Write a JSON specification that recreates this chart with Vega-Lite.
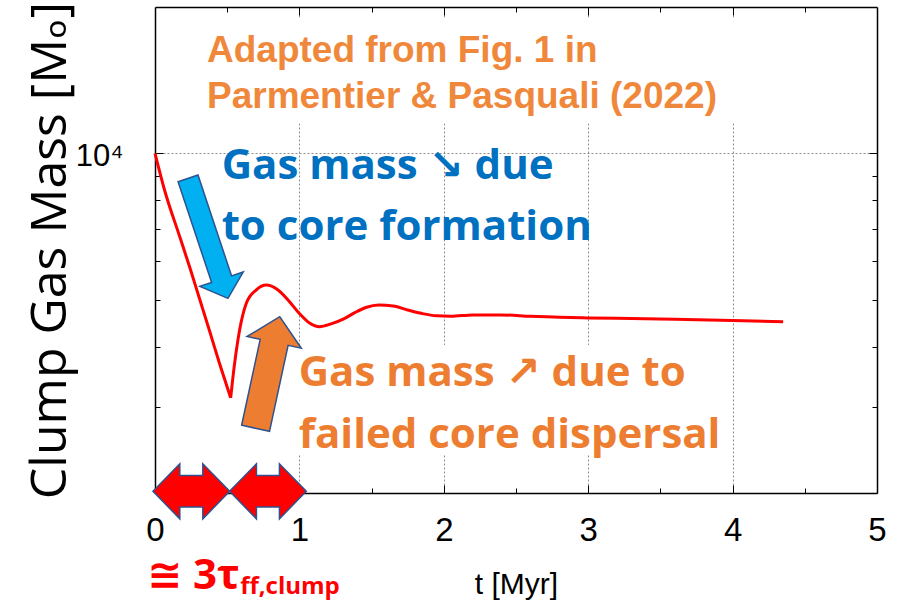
{
  "$schema": "https://vega.github.io/schema/vega-lite/v6.json",
  "width": 722,
  "height": 486,
  "autosize": {"type": "none"},
  "padding": {"left": 155, "top": 7, "right": 27, "bottom": 111},
  "background": "white",
  "config": {"view": {"stroke": null}},
  "layer": [
    {
      "data": {"values": [
        {"t1": 0.3, "t2": 4.05, "m1": 11526, "m2": 19000},
        {"t1": 0.97, "t2": 4.0, "m1": 2399, "m2": 4034}
      ]},
      "mark": {"type": "rect", "fill": "white", "strokeWidth": 0},
      "encoding": {
        "x": {"field": "t1", "type": "quantitative",
          "scale": {"domain": [0, 5], "nice": false, "zero": false},
          "axis": {"orient": "top", "values": [0.5, 1, 1.5, 2, 2.5, 3, 3.5, 4, 4.5],
            "labels": false, "grid": false, "title": null,
            "domain": true, "domainColor": "black", "domainWidth": 1.5,
            "tickColor": "black", "tickWidth": 1,
            "tickSize": {"condition": {"test": "datum.value % 1 === 0", "value": -8}, "value": -5}}},
        "x2": {"field": "t2"},
        "y": {"field": "m1", "type": "quantitative",
          "scale": {"type": "log", "domain": [2000, 20000], "nice": false},
          "axis": {"orient": "right", "values": [3000, 4000, 5000, 6000, 7000, 8000, 9000, 10000],
            "labels": false, "grid": false, "title": null,
            "domain": true, "domainColor": "black", "domainWidth": 1.5,
            "tickColor": "black", "tickWidth": 1,
            "tickSize": {"condition": {"test": "datum.value === 10000", "value": -8}, "value": -5}}},
        "y2": {"field": "m2"}
      }
    },
    {
      "data": {"values": [
        {"t": 0, "M": 10000}, {"t": 0.0665, "M": 8395}, {"t": 0.17, "M": 6754},
        {"t": 0.24, "M": 5834}, {"t": 0.309, "M": 5014}, {"t": 0.378, "M": 4309},
        {"t": 0.448, "M": 3686}, {"t": 0.524, "M": 3140}
      ]},
      "mark": {"type": "line", "color": "#FF0000", "strokeWidth": 3, "interpolate": "monotone"},
      "encoding": {
        "x": {"field": "t", "type": "quantitative",
          "scale": {"domain": [0, 5], "nice": false, "zero": false},
          "axis": {"orient": "bottom", "values": [0, 0.5, 1, 1.5, 2, 2.5, 3, 3.5, 4, 4.5, 5],
            "labelExpr": "datum.value % 1 === 0 ? format(datum.value, 'd') : ''",
            "labelFlush": false, "labelOverlap": false,
            "labelFont": "Liberation Sans", "labelFontSize": 33, "labelColor": "black", "labelPadding": 29,
            "grid": true, "gridColor": "#8c8c8c", "gridDash": [2, 2], "gridWidth": 1,
            "gridOpacity": {"condition": {"test": "datum.value % 1 === 0 && datum.value > 0 && datum.value < 5", "value": 1}, "value": 0},
            "domain": true, "domainColor": "black", "domainWidth": 1.5,
            "tickColor": "black", "tickWidth": 1,
            "tickSize": {"condition": {"test": "datum.value % 1 === 0", "value": -8}, "value": -5},
            "title": "t [Myr]", "titleFont": "Liberation Sans", "titleFontSize": 30,
            "titleFontWeight": "normal", "titleColor": "black", "titlePadding": 19}},
        "y": {"field": "M", "type": "quantitative",
          "scale": {"type": "log", "domain": [2000, 20000], "nice": false},
          "axis": {"orient": "left", "values": [3000, 4000, 5000, 6000, 7000, 8000, 9000, 10000],
            "labelExpr": "datum.value === 10000 ? '10⁴' : ''",
            "labelOverlap": false, "labelFont": "Liberation Sans, DejaVu Sans", "labelFontSize": 31,
            "labelColor": "black", "labelPadding": 40, "labelOffset": 3,
            "grid": true, "gridColor": "#8c8c8c", "gridDash": [2, 2], "gridWidth": 1,
            "gridOpacity": {"condition": {"test": "datum.value === 10000", "value": 1}, "value": 0},
            "domain": true, "domainColor": "black", "domainWidth": 1.5,
            "tickColor": "black", "tickWidth": 1,
            "tickSize": {"condition": {"test": "datum.value === 10000", "value": -8}, "value": -5},
            "title": "Clump Gas Mass [Mₒ]", "titleFont": "Open Sans, DejaVu Sans", "titleFontSize": 50,
            "titleFontWeight": "normal", "titleColor": "black", "titlePadding": 0}}
      }
    },
    {
      "data": {"values": [
        {"t": 0.524, "M": 3140}, {"t": 0.55, "M": 3670}, {"t": 0.586, "M": 4330},
        {"t": 0.633, "M": 4920}, {"t": 0.7, "M": 5230}, {"t": 0.77, "M": 5357},
        {"t": 0.85, "M": 5241}, {"t": 0.93, "M": 4958}, {"t": 1.0, "M": 4680},
        {"t": 1.07, "M": 4474}, {"t": 1.14, "M": 4397}, {"t": 1.22, "M": 4458},
        {"t": 1.3, "M": 4551}, {"t": 1.38, "M": 4694}, {"t": 1.46, "M": 4817},
        {"t": 1.55, "M": 4875}, {"t": 1.65, "M": 4850}, {"t": 1.75, "M": 4760},
        {"t": 1.85, "M": 4680}, {"t": 1.95, "M": 4630}, {"t": 2.05, "M": 4620},
        {"t": 2.2, "M": 4650}, {"t": 2.4, "M": 4650}, {"t": 2.6, "M": 4620},
        {"t": 2.8, "M": 4600}, {"t": 3.0, "M": 4585}, {"t": 3.3, "M": 4570},
        {"t": 3.6, "M": 4555}, {"t": 4.0, "M": 4530}, {"t": 4.35, "M": 4500}
      ]},
      "mark": {"type": "line", "color": "#FF0000", "strokeWidth": 3, "interpolate": "monotone"},
      "encoding": {
        "x": {"field": "t", "type": "quantitative", "scale": {"domain": [0, 5], "nice": false, "zero": false}, "axis": null},
        "y": {"field": "M", "type": "quantitative", "scale": {"type": "log", "domain": [2000, 20000], "nice": false}, "axis": null}
      }
    },
    {
      "data": {"values": [{"t": 0.367, "M": 6683}]},
      "mark": {"type": "point", "shape": "M 0 -1 L 0.362 -0.68 L 0.166 -0.68 L 0.166 1 L -0.166 1 L -0.166 -0.68 L -0.362 -0.68 Z",
        "filled": true, "fill": "#00B0F0", "stroke": "#2F528F", "strokeWidth": 1.5, "opacity": 1,
        "size": 16000, "angle": 161.6},
      "encoding": {
        "x": {"field": "t", "type": "quantitative", "scale": {"domain": [0, 5], "nice": false, "zero": false}, "axis": null},
        "y": {"field": "M", "type": "quantitative", "scale": {"type": "log", "domain": [2000, 20000], "nice": false}, "axis": null}
      }
    },
    {
      "data": {"values": [{"t": 0.78, "M": 3540}]},
      "mark": {"type": "point", "shape": "M 0 -1 L 0.486 -0.54 L 0.25 -0.54 L 0.25 1 L -0.25 1 L -0.25 -0.54 L -0.486 -0.54 Z",
        "filled": true, "fill": "#ED7D31", "stroke": "#2F528F", "strokeWidth": 1.5, "opacity": 1,
        "size": 13042, "angle": 12.2},
      "encoding": {
        "x": {"field": "t", "type": "quantitative", "scale": {"domain": [0, 5], "nice": false, "zero": false}, "axis": null},
        "y": {"field": "M", "type": "quantitative", "scale": {"type": "log", "domain": [2000, 20000], "nice": false}, "axis": null}
      }
    },
    {
      "data": {"values": [{"t": 0.2515, "M": 2016}, {"t": 0.782, "M": 2016}]},
      "mark": {"type": "point", "shape": "M -1 0 L -0.3 -0.717 L -0.3 -0.41 L 0.3 -0.41 L 0.3 -0.717 L 1 0 L 0.3 0.717 L 0.3 0.41 L -0.3 0.41 L -0.3 0.717 Z",
        "filled": true, "fill": "#FF0000", "stroke": "#2F528F", "strokeWidth": 1.5, "opacity": 1,
        "size": 5883},
      "encoding": {
        "x": {"field": "t", "type": "quantitative", "scale": {"domain": [0, 5], "nice": false, "zero": false}, "axis": null},
        "y": {"field": "M", "type": "quantitative", "scale": {"type": "log", "domain": [2000, 20000], "nice": false}, "axis": null}
      }
    },
    {
      "data": {"values": [
        {"t": 0.36, "M": 15378, "label": "Adapted from Fig. 1 in"},
        {"t": 0.36, "M": 12373, "label": "Parmentier & Pasquali (2022)"}
      ]},
      "mark": {"type": "text", "align": "left", "baseline": "alphabetic", "font": "Liberation Sans",
        "fontSize": 37, "fontWeight": "bold", "color": "#F0883C"},
      "encoding": {
        "x": {"field": "t", "type": "quantitative", "scale": {"domain": [0, 5], "nice": false, "zero": false}, "axis": null},
        "y": {"field": "M", "type": "quantitative", "scale": {"type": "log", "domain": [2000, 20000], "nice": false}, "axis": null},
        "text": {"field": "label"}
      }
    },
    {
      "data": {"values": [
        {"t": 0.4615, "M": 8872, "label": "Gas mass ↘ due"},
        {"t": 0.4615, "M": 6628, "label": "to core formation"}
      ]},
      "mark": {"type": "text", "align": "left", "baseline": "alphabetic", "font": "Open Sans, DejaVu Sans",
        "fontSize": 42, "fontWeight": "bold", "color": "#0070C0"},
      "encoding": {
        "x": {"field": "t", "type": "quantitative", "scale": {"domain": [0, 5], "nice": false, "zero": false}, "axis": null},
        "y": {"field": "M", "type": "quantitative", "scale": {"type": "log", "domain": [2000, 20000], "nice": false}, "axis": null},
        "text": {"field": "label"}
      }
    },
    {
      "data": {"values": [
        {"t": 0.995, "M": 3323, "label": "Gas mass ↗ due to"},
        {"t": 0.995, "M": 2475, "label": "failed core dispersal"}
      ]},
      "mark": {"type": "text", "align": "left", "baseline": "alphabetic", "font": "Open Sans, DejaVu Sans",
        "fontSize": 42, "fontWeight": "bold", "color": "#ED7D31"},
      "encoding": {
        "x": {"field": "t", "type": "quantitative", "scale": {"domain": [0, 5], "nice": false, "zero": false}, "axis": null},
        "y": {"field": "M", "type": "quantitative", "scale": {"type": "log", "domain": [2000, 20000], "nice": false}, "axis": null},
        "text": {"field": "label"}
      }
    },
    {
      "data": {"values": [{"t": 0.586, "M": 1272, "label": "≅ 3τ"}]},
      "mark": {"type": "text", "align": "right", "baseline": "alphabetic", "font": "Open Sans, DejaVu Sans",
        "fontSize": 42, "fontWeight": "bold", "color": "#FF0000"},
      "encoding": {
        "x": {"field": "t", "type": "quantitative", "scale": {"domain": [0, 5], "nice": false, "zero": false}, "axis": null},
        "y": {"field": "M", "type": "quantitative", "scale": {"type": "log", "domain": [2000, 20000], "nice": false}, "axis": null},
        "text": {"field": "label"}
      }
    },
    {
      "data": {"values": [{"t": 0.59, "M": 1237, "label": "ff,clump"}]},
      "mark": {"type": "text", "align": "left", "baseline": "alphabetic", "font": "Open Sans, DejaVu Sans",
        "fontSize": 24, "fontWeight": "bold", "color": "#FF0000"},
      "encoding": {
        "x": {"field": "t", "type": "quantitative", "scale": {"domain": [0, 5], "nice": false, "zero": false}, "axis": null},
        "y": {"field": "M", "type": "quantitative", "scale": {"type": "log", "domain": [2000, 20000], "nice": false}, "axis": null},
        "text": {"field": "label"}
      }
    }
  ],
  "resolve": {"axis": {"x": "independent", "y": "independent"}}
}
